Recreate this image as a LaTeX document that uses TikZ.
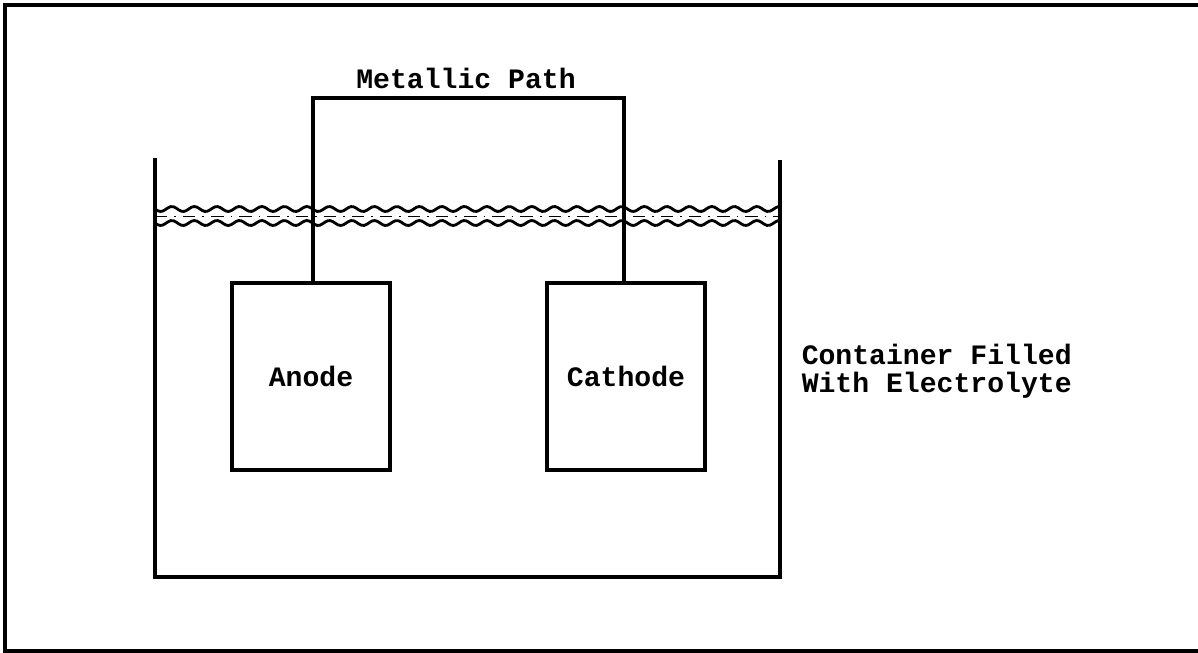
\documentclass[tikz,border=0pt]{standalone}
\usepackage{fontspec}
\setmonofont{Liberation Mono}
\usetikzlibrary{positioning}

\begin{document}
\begin{tikzpicture}[x=0.02cm, y=-0.02cm, line width=2pt,
      label/.style={font=\ttfamily\bfseries\fontsize{16}{16}\selectfont, inner sep=0pt},
      electrode/.style={draw, line width=2pt, minimum width=3.16cm, minimum height=3.74cm,
        inner sep=0pt, label},
      wave/.style={line width=1.6pt}]
    \useasboundingbox (0,0) rectangle (1198,653);

    % frame
    \draw (1200,5) -- (5,5) -- (5,651) -- (1200,651);

    % container walls
    \coordinate (tl) at (155,158);
    \coordinate (bl) at (155,577);
    \coordinate (br) at (780,577);
    \coordinate (tr) at (780,160);
    \draw (tl) -- (bl) -- (br) -- (tr);

    % electrolyte surface
    \draw[wave] plot[domain=155:780, samples=240, smooth] (\x, {209+2.5*sin((\x-155)*16)});
    \draw[wave] plot[domain=155:780, samples=240, smooth] (\x, {223+2.5*sin((\x-155)*16)});
    \draw[line width=0.5pt, dash pattern=on 7pt off 4pt on 1pt off 4pt] (155,216) -- (780,216);

    % electrodes
    \node[electrode] (anode) at (311,376.5) {Anode};
    \node[electrode] (cathode) at (626,376.5) {Cathode};

    % metallic path
    \coordinate (top) at (466,98);
    \draw ([xshift=0.04cm]anode.north) |- (top) -| ([xshift=-0.04cm]cathode.north);
    \node[label] (mpath) at (466,78) {Metallic Path};

    \node[label, align=left, anchor=west] (fill) at (800,371)
      {Container Filled\\[0.2pt]With Electrolyte};
  \end{tikzpicture}
\end{document}
